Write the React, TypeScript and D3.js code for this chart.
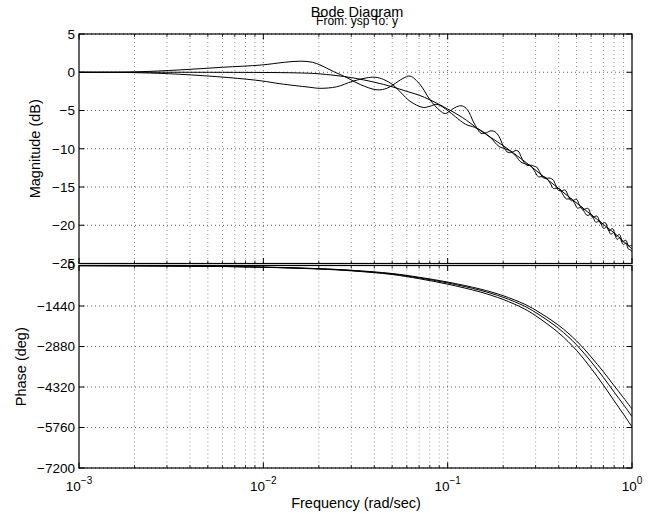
import React from 'react';
import * as d3 from 'd3';

// ---- Data ----
const magFreqS = [0.001, 0.003, 0.006, 0.01, 0.015, 0.02, 0.03, 0.04, 0.05, 0.06, 0.07, 0.08, 0.1, 0.12, 0.15, 0.2, 0.25, 0.3, 0.4, 0.5, 0.6, 0.7, 0.8, 0.9, 1.0];
const magS = [0, 0, -0.01, -0.03, -0.08, -0.2, -0.7, -1.3, -1.9, -2.5, -3.0, -3.6, -4.8, -5.9, -7.6, -9.6, -11.3, -12.8, -15.2, -17.1, -18.6, -19.9, -21.0, -22.1, -23.1];

const magFreqP = [0.001, 0.002, 0.0035, 0.006, 0.0098, 0.013, 0.016, 0.0185, 0.0203, 0.024, 0.0284, 0.0335, 0.0414, 0.0468, 0.0505, 0.0573, 0.0625, 0.0708, 0.0802, 0.0906, 0.097, 0.105, 0.112, 0.12, 0.128, 0.138, 0.145, 0.152, 0.162, 0.172, 0.181, 0.19, 0.2, 0.21, 0.222, 0.232, 0.241, 0.25, 0.26, 0.272, 0.285, 0.295, 0.304, 0.315, 0.33, 0.345, 0.36, 0.373, 0.385, 0.4, 0.415, 0.434, 0.45, 0.468, 0.485, 0.5, 0.52, 0.54, 0.56, 0.578, 0.61, 0.645, 0.68, 0.715, 0.75, 0.785, 0.82, 0.855, 0.89, 0.925, 0.96, 1.0];
const magP = [0, 0.05, 0.3, 0.65, 0.95, 1.3, 1.45, 1.3, 0.95, 0.1, -0.7, -1.6, -2.3, -2.1, -1.65, -0.8, -0.5, -1.6, -3.6, -5.0, -5.4, -4.9, -4.5, -4.4, -4.9, -6.5, -7.4, -8.0, -7.9, -7.65, -7.8, -8.4, -9.6, -10.4, -10.5, -10.25, -10.3, -11.0, -11.8, -12.2, -12.15, -12.3, -12.4, -13.0, -13.8, -13.85, -13.85, -14.05, -14.7, -15.45, -15.5, -15.4, -16.1, -16.8, -16.7, -16.6, -17.4, -18.0, -17.85, -17.8, -18.95, -18.8, -19.85, -19.65, -20.7, -20.45, -21.45, -21.2, -22.15, -21.95, -22.7, -22.6];

const magFreqN = [0.001, 0.002, 0.0035, 0.0065, 0.0098, 0.0123, 0.0177, 0.0203, 0.025, 0.0303, 0.036, 0.0404, 0.045, 0.0505, 0.056, 0.0625, 0.0736, 0.08, 0.0876, 0.1, 0.11, 0.125, 0.14, 0.155, 0.17, 0.19, 0.205, 0.22, 0.235, 0.25, 0.265, 0.28, 0.295, 0.31, 0.325, 0.34, 0.36, 0.375, 0.39, 0.405, 0.42, 0.44, 0.455, 0.47, 0.49, 0.505, 0.52, 0.535, 0.55, 0.57, 0.585, 0.6, 0.62, 0.635, 0.65, 0.67, 0.685, 0.7, 0.715, 0.73, 0.75, 0.765, 0.78, 0.8, 0.815, 0.83, 0.845, 0.86, 0.88, 0.895, 0.91, 0.93, 0.945, 0.96, 0.98, 1.0];
const magN = [0, -0.05, -0.26, -0.7, -1.13, -1.5, -1.95, -2.1, -1.9, -1.2, -0.75, -0.65, -0.95, -1.65, -2.7, -3.8, -4.6, -4.45, -4.2, -5.0, -5.8, -6.8, -7.2, -7.75, -8.5, -9.7, -10.0, -10.35, -11.0, -11.75, -12.0, -12.15, -12.85, -13.65, -13.65, -13.75, -14.5, -15.2, -15.2, -15.25, -15.9, -16.55, -16.55, -16.55, -17.2, -17.75, -17.7, -17.6, -18.2, -18.7, -18.65, -18.55, -19.15, -19.6, -19.55, -19.45, -20.0, -20.4, -20.35, -20.2, -20.75, -21.15, -21.1, -20.95, -21.5, -21.85, -21.75, -21.65, -22.2, -22.5, -22.45, -22.35, -22.85, -23.15, -23.2, -23.5];

const phaseFreq = [0.001, 0.002, 0.005, 0.01, 0.02, 0.03, 0.05, 0.07, 0.1, 0.15, 0.2, 0.26, 0.3, 0.4, 0.5, 0.6, 0.7, 0.8, 0.9, 1.0];
const phaseUpper = [-5, -9.5, -26, -57, -112, -169, -285, -418, -589, -836, -1074, -1368, -1587, -2128, -2679, -3249, -3781, -4275, -4703, -5100];
const phaseMid = [-5, -10, -27, -60, -118, -178, -300, -440, -620, -880, -1130, -1440, -1670, -2240, -2820, -3420, -3980, -4500, -4950, -5370];
const phaseLower = [-5, -11, -29, -64, -126, -190, -321, -470, -663, -941, -1208, -1539, -1785, -2395, -3015, -3656, -4255, -4811, -5292, -5740];

const magTicks = [5, 0, -5, -10, -15, -20, -25];
const phaseTicks = [0, -1440, -2880, -4320, -5760, -7200];
const decadeExps = [-3, -2, -1, 0];

const titleText = 'Bode Diagram';
const subtitleText = 'From: ysp  To: y';
const xLabel = 'Frequency  (rad/sec)';
const magLabel = 'Magnitude (dB)';
const phaseLabel = 'Phase (deg)';

const FONT = 'Liberation Sans, Arial, Helvetica, sans-serif';
const minus = (v: number) => String(v).replace('-', '\u2212');

export default function App() {
  const left = 79, right = 632;
  const magTop = 34, magBottom = 263.5;
  const phTop = 265.5, phBottom = 468;

  const x = d3.scaleLog().domain([1e-3, 1]).range([left, right]);
  const yM = d3.scaleLinear().domain([-25, 5]).range([magBottom, magTop]);
  const yP = d3.scaleLinear().domain([-7200, 0]).range([phBottom, phTop]);

  const minorFreqs: number[] = [];
  for (const e of [-3, -2, -1]) {
    for (let k = 2; k <= 9; k++) minorFreqs.push(k * Math.pow(10, e));
  }
  const majorFreqs = decadeExps.map(e => Math.pow(10, e));

  const mkLine = (yS: d3.ScaleLinear<number, number>) =>
    d3.line<[number, number]>()
      .x(d => x(d[0]))
      .y(d => yS(d[1]))
      .curve(d3.curveCatmullRom.alpha(0.5));

  const magLine = mkLine(yM);
  const phLine = mkLine(yP);

  const magSeries: [number, number][][] = [
    magFreqS.map((f, i) => [f, magS[i]] as [number, number]),
    magFreqP.map((f, i) => [f, magP[i]] as [number, number]),
    magFreqN.map((f, i) => [f, magN[i]] as [number, number]),
  ];
  const phSeries: [number, number][][] = [phaseUpper, phaseMid, phaseLower].map(arr =>
    phaseFreq.map((f, i) => [f, arr[i]] as [number, number])
  );

  const tickLen = 5.5;
  const minorLen = 3;

  const axesFrame = (top: number, bottom: number, yS: d3.ScaleLinear<number, number>, ticks: number[], key: string) => (
    <g key={key}>
      {minorFreqs.map((f, i) => (
        <line key={'mv' + i} x1={x(f)} x2={x(f)} y1={top} y2={bottom} stroke="#777" strokeWidth={0.8} strokeDasharray="1 3" />
      ))}
      {majorFreqs.slice(1, 3).map((f, i) => (
        <line key={'Mv' + i} x1={x(f)} x2={x(f)} y1={top} y2={bottom} stroke="#333" strokeWidth={0.8} strokeDasharray="1 3" />
      ))}
      {ticks.map((t, i) => (
        <line key={'h' + i} x1={left} x2={right} y1={yS(t)} y2={yS(t)} stroke="#333" strokeWidth={0.8} strokeDasharray="1 3" />
      ))}
      {ticks.map((t, i) => (
        <g key={'yt' + i}>
          <line x1={left} x2={left + tickLen} y1={yS(t)} y2={yS(t)} stroke="#000" />
          <line x1={right} x2={right - tickLen} y1={yS(t)} y2={yS(t)} stroke="#000" />
        </g>
      ))}
      {majorFreqs.map((f, i) => (
        <g key={'xt' + i}>
          <line x1={x(f)} x2={x(f)} y1={top} y2={top + tickLen} stroke="#000" />
          <line x1={x(f)} x2={x(f)} y1={bottom} y2={bottom - tickLen} stroke="#000" />
        </g>
      ))}
      {minorFreqs.map((f, i) => (
        <g key={'xm' + i}>
          <line x1={x(f)} x2={x(f)} y1={top} y2={top + minorLen} stroke="#000" strokeWidth={0.8} />
          <line x1={x(f)} x2={x(f)} y1={bottom} y2={bottom - minorLen} stroke="#000" strokeWidth={0.8} />
        </g>
      ))}
      {ticks.map((t, i) => (
        <text key={'yl' + i} x={75} y={yS(t)} dy="0.36em" textAnchor="end" fontSize={13.5} fontFamily={FONT} fill="#000">
          {minus(t)}
        </text>
      ))}
    </g>
  );

  return (
    <svg width={652} height={514} style={{ position: 'absolute', left: 0, top: 0, background: '#fff' }}>
      <defs>
        <clipPath id="clipMag"><rect x={left} y={magTop} width={right - left} height={magBottom - magTop} /></clipPath>
        <clipPath id="clipPh"><rect x={left} y={phTop - 1} width={right - left} height={phBottom - phTop + 1} /></clipPath>
      </defs>
      <rect x={0} y={0} width={652} height={514} fill="#fff" />

      {axesFrame(magTop, magBottom, yM, magTicks, 'mag')}
      {axesFrame(phTop, phBottom, yP, phaseTicks, 'ph')}

      <g clipPath="url(#clipMag)">
        {magSeries.map((s, i) => (
          <path key={'m' + i} d={magLine(s) || ''} fill="none" stroke="#000" strokeWidth={1} />
        ))}
      </g>
      <g clipPath="url(#clipPh)">
        {phSeries.map((s, i) => (
          <path key={'p' + i} d={phLine(s) || ''} fill="none" stroke="#000" strokeWidth={1} />
        ))}
      </g>

      <rect x={left} y={magTop} width={right - left} height={magBottom - magTop} fill="none" stroke="#000" strokeWidth={1.2} />
      <rect x={left} y={phTop} width={right - left} height={phBottom - phTop} fill="none" stroke="#000" strokeWidth={1.2} />

      {decadeExps.map((e, i) => (
        <text key={'xl' + i} x={x(Math.pow(10, e))} y={491} textAnchor="middle" fontFamily={FONT} fill="#000">
          <tspan fontSize={13.5}>10</tspan>
          <tspan fontSize={10} dy={-7}>{minus(e)}</tspan>
        </text>
      ))}

      <text x={357} y={17} textAnchor="middle" fontSize={14.5} fontFamily={FONT} fill="#000">{titleText}</text>
      <text x={357} y={24.5} textAnchor="middle" fontSize={12} fontFamily={FONT} fill="#000">{subtitleText}</text>
      <text x={356} y={508} textAnchor="middle" fontSize={14.5} fontFamily={FONT} fill="#000">{xLabel}</text>
      <text transform={`translate(40,${(magTop + magBottom) / 2}) rotate(-90)`} textAnchor="middle" fontSize={14.5} fontFamily={FONT} fill="#000">{magLabel}</text>
      <text transform={`translate(25.5,${(phTop + phBottom) / 2}) rotate(-90)`} textAnchor="middle" fontSize={14.5} fontFamily={FONT} fill="#000">{phaseLabel}</text>
    </svg>
  );
}
